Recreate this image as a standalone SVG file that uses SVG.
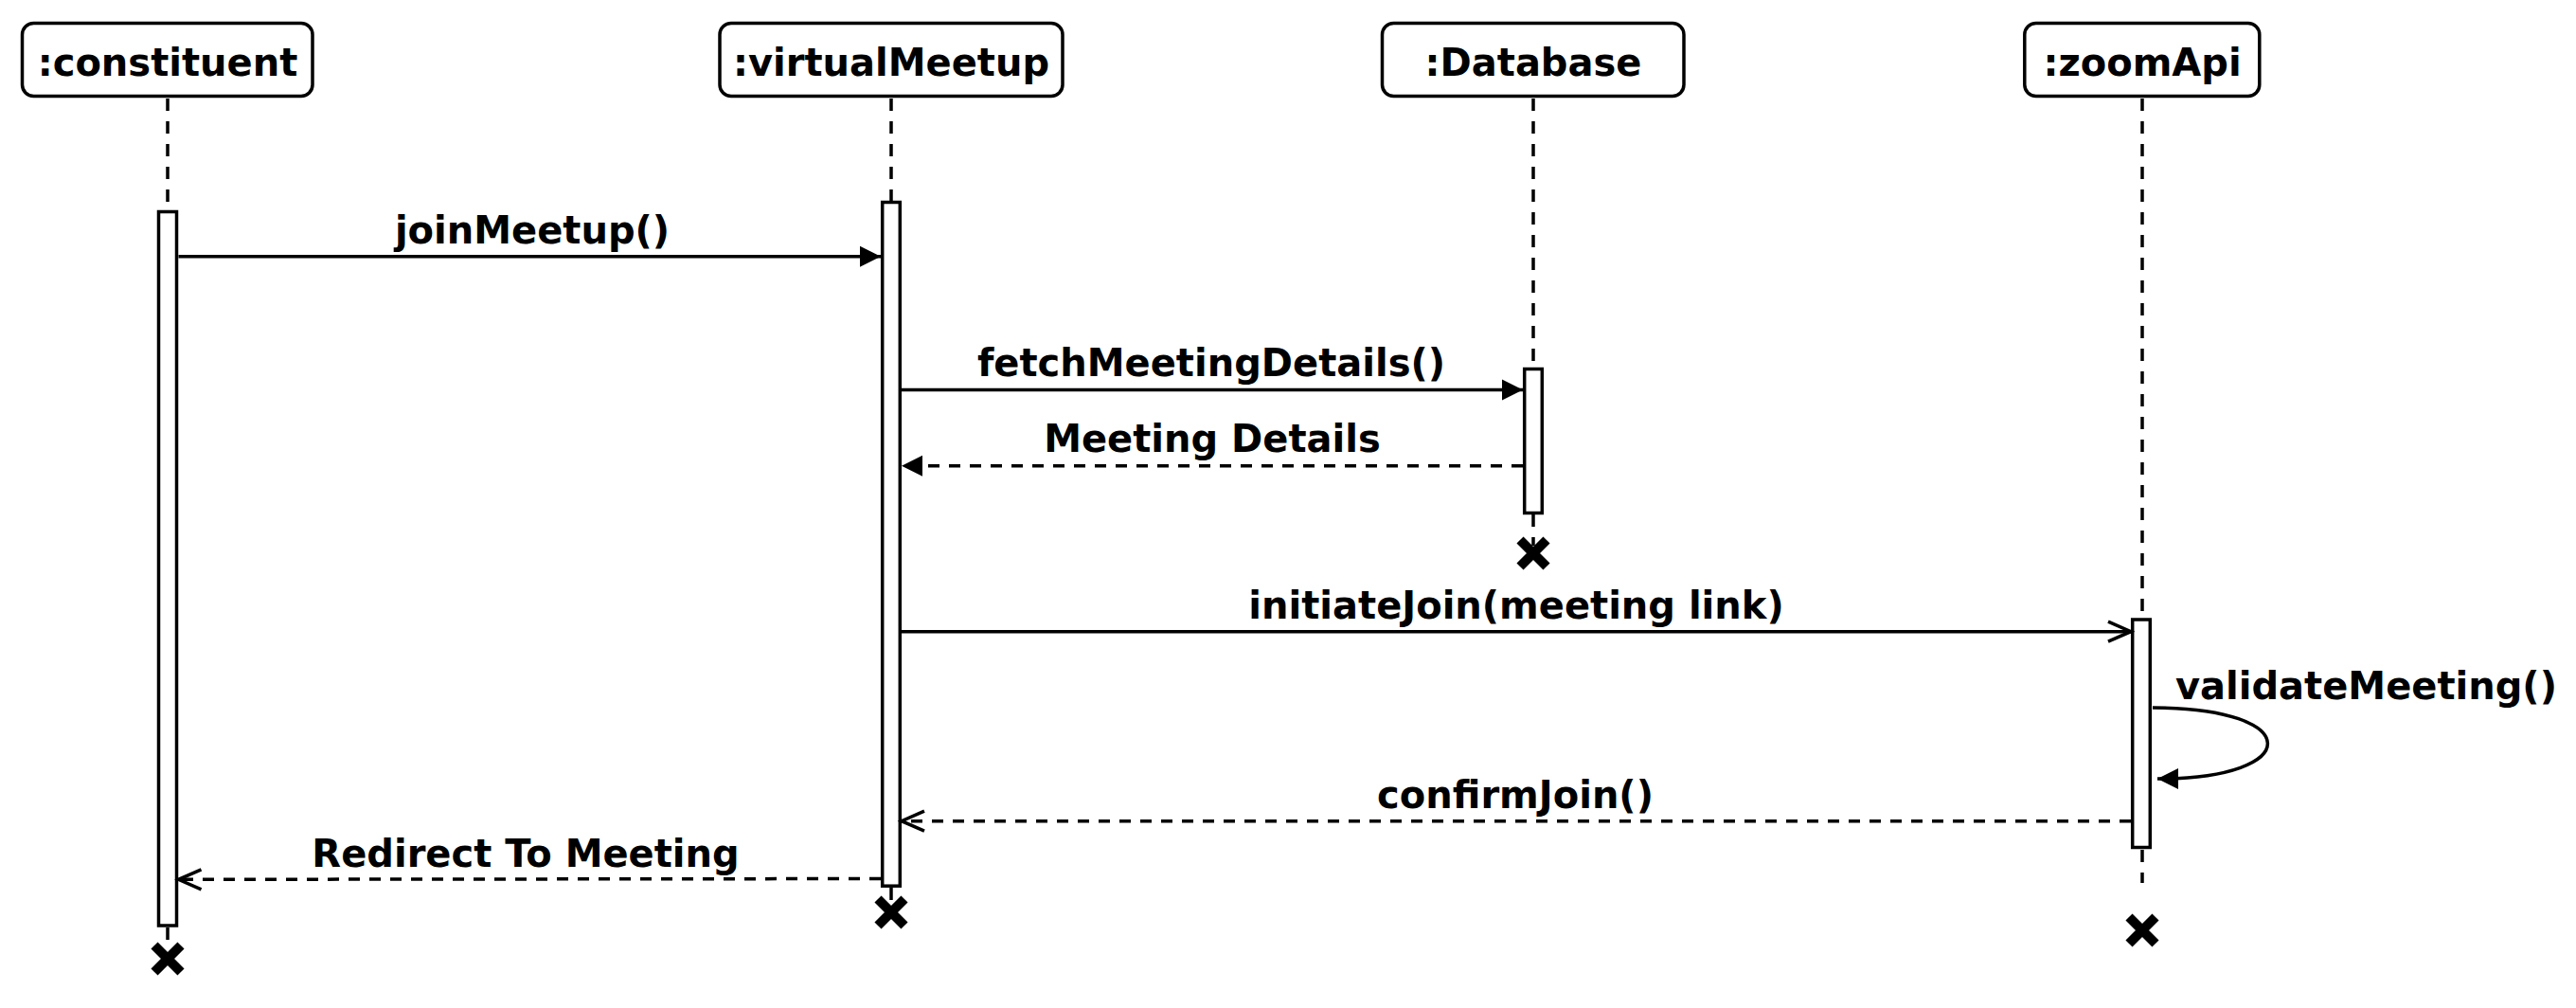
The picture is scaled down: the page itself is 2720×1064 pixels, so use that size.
<svg xmlns="http://www.w3.org/2000/svg" width="2720" height="1064" viewBox="0 0 2720 1064">
<defs>
<style>
.box{fill:#fff;stroke:#000;stroke-width:3.5}
.act{fill:#fff;stroke:#000;stroke-width:3.5}
.life{stroke:#000;stroke-width:3.5;stroke-dasharray:13 11;fill:none}
.msg{stroke:#000;stroke-width:3.5;fill:none}
.ret{stroke:#000;stroke-width:3.5;fill:none;stroke-dasharray:12 10}
.t{font-family:"DejaVu Sans",Verdana,sans-serif;font-weight:bold;font-size:40px;fill:#000;text-anchor:middle}
.lbl{font-family:"DejaVu Sans",Verdana,sans-serif;font-weight:bold;font-size:40px;fill:#000}
.x{stroke:#000;stroke-width:10;fill:none}
</style>
<marker id="filled" markerUnits="userSpaceOnUse" markerWidth="24" markerHeight="24" refX="22" refY="11" orient="auto" overflow="visible">
<path d="M0,0 L22,11 L0,22 z" fill="#000"/>
</marker>
<marker id="open" markerUnits="userSpaceOnUse" markerWidth="26" markerHeight="24" refX="24" refY="10.5" orient="auto" overflow="visible">
<path d="M0,0 L24,10.5 L0,21" fill="none" stroke="#000" stroke-width="3.5"/>
</marker>
</defs>
<rect width="2720" height="1064" fill="#fff"/>

<g id="lifelines">
<line class="life" x1="177" y1="104" x2="177" y2="222"/>
<line class="life" x1="177" y1="979" x2="177" y2="1003"/>
<line class="life" x1="941" y1="104" x2="941" y2="212"/>
<line class="life" x1="941" y1="937" x2="941" y2="952"/>
<line class="life" x1="1619" y1="104" x2="1619" y2="388"/>
<line class="life" x1="1619" y1="543" x2="1619" y2="576"/>
<line class="life" x1="2262" y1="104" x2="2262" y2="652"/>
<line class="life" x1="2262" y1="897" x2="2262" y2="932"/>
</g>

<g id="constituent">
<rect class="box" x="23.5" y="24.5" width="306.5" height="77" rx="12"/>
<text class="t" x="177" y="80">:constituent</text>
<rect class="act" x="167.5" y="223.5" width="19" height="753.5"/>
<path class="x" d="M163,998 L191,1026 M191,998 L163,1026"/>
</g>

<g id="virtualMeetup">
<rect class="box" x="760" y="24.5" width="362" height="77" rx="12"/>
<text class="t" x="941" y="80">:virtualMeetup</text>
<rect class="act" x="931.7" y="213.5" width="18.6" height="721.7"/>
<path class="x" d="M927,949 L955,977 M955,949 L927,977"/>
</g>

<g id="Database">
<rect class="box" x="1459.5" y="24.5" width="318.5" height="77" rx="12"/>
<text class="t" x="1619" y="80">:Database</text>
<rect class="act" x="1609.7" y="389.5" width="18.6" height="152"/>
<path class="x" d="M1605,570 L1633,598 M1633,570 L1605,598"/>
</g>

<g id="zoomApi">
<rect class="box" x="2137.8" y="24.5" width="248" height="77" rx="12"/>
<text class="t" x="2262" y="80">:zoomApi</text>
<rect class="act" x="2251.7" y="654" width="18.6" height="240.5"/>
<path class="x" d="M2248,968 L2276,996 M2276,968 L2248,996"/>
</g>

<g id="connectors">
<line class="msg" x1="188.5" y1="270.7" x2="930" y2="270.7" marker-end="url(#filled)"/>
<text class="t" x="562" y="257">joinMeetup()</text>

<line class="msg" x1="952" y1="411.5" x2="1608" y2="411.5" marker-end="url(#filled)"/>
<text class="t" x="1279" y="397">fetchMeetingDetails()</text>

<line class="ret" x1="1608" y1="491.7" x2="952" y2="491.7" marker-end="url(#filled)"/>
<text class="t" x="1280" y="477">Meeting Details</text>

<line class="msg" x1="952" y1="666.7" x2="2250" y2="666.7" marker-end="url(#open)"/>
<text class="t" x="1601" y="653">initiateJoin(meeting link)</text>

<path class="msg" d="M2273,747 C2434,747 2434,822 2278,822" marker-end="url(#filled)"/>
<text class="lbl" x="2297" y="738">validateMeeting()</text>

<line class="ret" x1="2250" y1="866.7" x2="952" y2="866.7" marker-end="url(#open)"/>
<text class="t" x="1600" y="853">confirmJoin()</text>

<line class="ret" x1="930" y1="927.5" x2="188.5" y2="928.3" marker-end="url(#open)"/>
<text class="t" x="555" y="915">Redirect To Meeting</text>
</g>
</svg>
